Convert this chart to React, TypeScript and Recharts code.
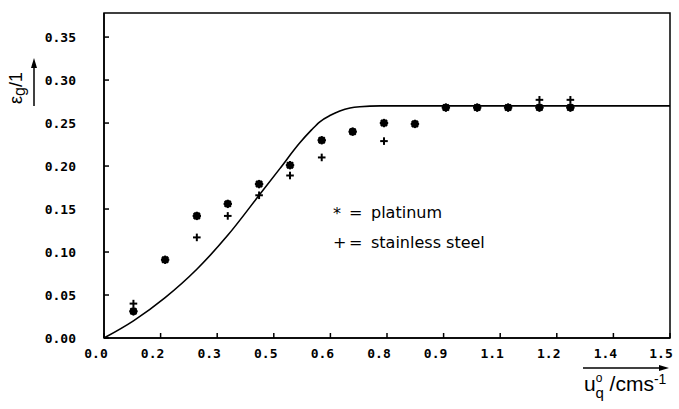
import React from "react";
import {
  ComposedChart,
  Line,
  Scatter,
  XAxis,
  YAxis,
  ReferenceArea,
} from "recharts";

const xTicks = [0, 0.15, 0.3, 0.45, 0.6, 0.75, 0.9, 1.05, 1.2, 1.35, 1.5];
const xTickLabels = ["0.0", "0.2", "0.3", "0.5", "0.6", "0.8", "0.9", "1.1", "1.2", "1.4", "1.5"];
const yTicks = [0, 0.05, 0.1, 0.15, 0.2, 0.25, 0.3, 0.35];

const platinumX = [0.078, 0.162, 0.246, 0.328, 0.411, 0.493, 0.577, 0.659, 0.742, 0.824, 0.906, 0.989, 1.071, 1.154, 1.236];
const platinumY = [0.031, 0.091, 0.142, 0.156, 0.179, 0.201, 0.23, 0.24, 0.25, 0.249, 0.268, 0.268, 0.268, 0.268, 0.268];

const steelX = [0.078, 0.246, 0.328, 0.411, 0.493, 0.577, 0.742, 1.154, 1.236];
const steelY = [0.04, 0.117, 0.142, 0.166, 0.189, 0.21, 0.229, 0.277, 0.277];

const curveX = [0, 0.078, 0.162, 0.246, 0.329, 0.411, 0.466, 0.519, 0.55, 0.572, 0.6, 0.625, 0.652, 0.678, 0.732, 1.5];
const curveY = [0, 0.02, 0.047, 0.08, 0.12, 0.166, 0.197, 0.227, 0.242, 0.2515, 0.259, 0.264, 0.2675, 0.269, 0.27, 0.27];

const platinum = platinumX.map((x, i) => ({ x, y: platinumY[i] }));
const steel = steelX.map((x, i) => ({ x, y: steelY[i] }));
const curve = curveX.map((x, i) => ({ x, y: curveY[i] }));

const tickFont = { fontFamily: "DejaVu Sans Mono", fontSize: 13, fontWeight: "bold" as const, fill: "#000" };

function XTick(props: any) {
  const { x, y, payload } = props;
  return (
    <text x={x - 8} y={y} dy="0.71em" textAnchor="middle" {...tickFont}>
      {xTickLabels[xTicks.indexOf(payload.value)] ?? ""}
    </text>
  );
}

function Star(props: any) {
  const { cx, cy } = props;
  const r = 4.2;
  const d = r * 0.72;
  return (
    <g stroke="#000" strokeWidth={2}>
      <circle cx={cx} cy={cy} r={2.8} fill="#000" />
      <line x1={cx - r} y1={cy} x2={cx + r} y2={cy} />
      <line x1={cx} y1={cy - r} x2={cx} y2={cy + r} />
      <line x1={cx - d} y1={cy - d} x2={cx + d} y2={cy + d} />
      <line x1={cx - d} y1={cy + d} x2={cx + d} y2={cy - d} />
    </g>
  );
}

function Plus(props: any) {
  const { cx, cy } = props;
  const r = 3.8;
  return (
    <g stroke="#000" strokeWidth={2}>
      <line x1={cx - r} y1={cy} x2={cx + r} y2={cy} />
      <line x1={cx} y1={cy - r} x2={cx} y2={cy + r} />
    </g>
  );
}

export default function App() {
  return (
    <div style={{ position: "absolute", left: 0, top: 0, width: 679, height: 409, background: "#fff" }}>
      <ComposedChart width={679} height={409} margin={{ top: 13, right: 9, bottom: 0, left: 0 }}>
        <XAxis
          type="number"
          dataKey="x"
          domain={[0, 1.5]}
          ticks={xTicks}
          height={71}
          tickSize={-5}
          tickMargin={16}
          tick={<XTick />}
          stroke="#000"
          strokeWidth={1.5}
          allowDataOverflow
        />
        <YAxis
          type="number"
          dataKey="y"
          domain={[0, 0.378]}
          ticks={yTicks}
          tickFormatter={(v: number) => v.toFixed(2)}
          width={104}
          tickSize={-5}
          tickMargin={33}
          tick={tickFont}
          stroke="#000"
          strokeWidth={1.5}
          allowDataOverflow
        />
        <ReferenceArea x1={0} x2={1.5} y1={0} y2={0.378} fill="none" stroke="#000" strokeWidth={1.5} />
        <Line
          data={curve}
          dataKey="y"
          type="monotone"
          stroke="#000"
          strokeWidth={1.6}
          dot={false}
          isAnimationActive={false}
        />
        <Scatter data={steel} dataKey="y" shape={Plus} isAnimationActive={false} />
        <Scatter data={platinum} dataKey="y" shape={Star} isAnimationActive={false} />
      </ComposedChart>
      <svg
        width={679}
        height={409}
        style={{ position: "absolute", left: 0, top: 0, pointerEvents: "none" }}
      >
        {/* y axis label with arrow */}
        <text
          transform="translate(22,88) rotate(-90)"
          textAnchor="middle"
          fontFamily="Liberation Sans"
          fontSize={18}
          fill="#000"
        >
          ε<tspan fontSize={16} dy={3}>g</tspan>
          <tspan dy={-3}>/1</tspan>
        </text>
        <line x1={34} y1={106} x2={34} y2={64} stroke="#000" strokeWidth={1.5} />
        <polygon points="34,58 31,68 37,68" fill="#000" />

        {/* x axis label with arrow */}
        <line x1={583} y1={368} x2={662} y2={368} stroke="#000" strokeWidth={1.5} />
        <polygon points="669,368 659,365 659,371" fill="#000" />
        <text x={584} y={391} fontFamily="Liberation Sans" fontSize={21} fill="#000">
          u
          <tspan fontSize={12} dy={-9}>o</tspan>
          <tspan fontSize={15} dx={-7} dy={16}>q</tspan>
          <tspan dy={-7}> /cms</tspan>
          <tspan fontSize={14} dy={-7}>-1</tspan>
        </text>

        {/* legend */}
        <g fontFamily="DejaVu Sans" fontSize={16} fill="#000">
          <text x={333} y={219}>*</text>
          <text x={349} y={218}>=</text>
          <text x={371} y={218}>platinum</text>
          <text x={333} y={248}>+</text>
          <text x={349} y={248}>=</text>
          <text x={371} y={248}>stainless steel</text>
        </g>
      </svg>
    </div>
  );
}
